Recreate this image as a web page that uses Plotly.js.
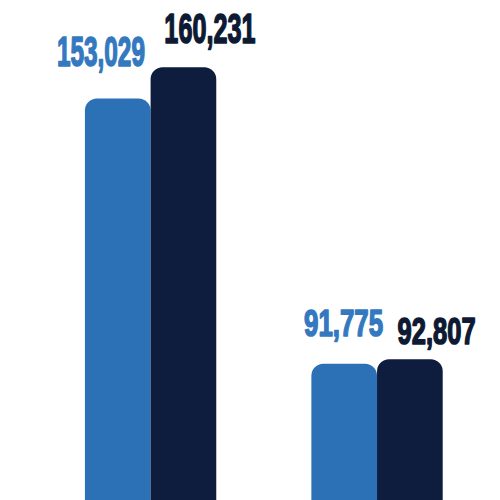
<!DOCTYPE html>
<html>
<head>
<meta charset="utf-8">
<script src="https://cdn.plot.ly/plotly-3.0.1.min.js"></script>
<style>
html,body{margin:0;padding:0;background:#fff;}
#chart{width:500px;height:500px;}
</style>
</head>
<body>
<div id="chart"></div>
<script>
var categories = ["A", "B"];
var seriesLight = [153029, 91775];
var seriesDark = [160231, 92807];
var labelsLight = ["153,029", "91,775"];
var labelsDark = ["160,231", "92,807"];

var lightColor = "#2c70b6";
var darkColor = "#0e1d3e";
var lightText = "#3479bf";
var darkText = "#0e1a33";
var fontFam = "'Liberation Sans', Arial, sans-serif";

var traces = [
  {type: "bar", x: categories, y: seriesLight, marker: {color: lightColor, cornerradius: 12, line: {width: 0}}, hoverinfo: "none"},
  {type: "bar", x: categories, y: seriesDark, marker: {color: darkColor, cornerradius: 12, line: {width: 0}}, hoverinfo: "none"}
];

// style: font size per group, shifts (px) and horizontal condensing per label
var labelSizes = [42, 37];
var lightShift = [[-50, 47], [-34, 40]];
var darkShift = [[59, 39], [59, 27.5]];
var lightSqueeze = [0.58, 0.70];
var darkSqueeze = [0.60, 0.69];

var annotations = [];
var squeezes = [];
var strokeCols = [];
categories.forEach(function (c, i) {
  annotations.push({x: c, y: seriesLight[i], text: "<b>" + labelsLight[i] + "</b>", showarrow: false,
    xanchor: "center", yanchor: "middle", xshift: lightShift[i][0], yshift: lightShift[i][1],
    font: {family: fontFam, size: labelSizes[i], color: lightText}});
  squeezes.push(lightSqueeze[i]); strokeCols.push(lightText);
  annotations.push({x: c, y: seriesDark[i], text: "<b>" + labelsDark[i] + "</b>", showarrow: false,
    xanchor: "center", yanchor: "middle", xshift: darkShift[i][0], yshift: darkShift[i][1],
    font: {family: fontFam, size: labelSizes[i], color: darkText}});
  squeezes.push(darkSqueeze[i]); strokeCols.push(darkText);
});

var layout = {
  width: 500, height: 500,
  margin: {l: 0, r: 0, t: 0, b: 0},
  paper_bgcolor: "#ffffff", plot_bgcolor: "#ffffff",
  showlegend: false,
  barmode: "group",
  bargap: 0.42,
  bargroupgap: 0,
  xaxis: {range: [-0.665, 1.543], visible: false, fixedrange: true},
  yaxis: {range: [60300, 175750], visible: false, fixedrange: true},
  annotations: annotations
};

Plotly.newPlot("chart", traces, layout, {displayModeBar: false, staticPlot: true}).then(function () {
  var texts = document.querySelectorAll("#chart .annotation-text");
  texts.forEach(function (t, k) {
    t.style.transformBox = "fill-box";
    t.style.transformOrigin = "center";
    t.style.transform = "scaleX(" + squeezes[k] + ")";
    t.style.stroke = strokeCols[k];
    t.style.strokeWidth = "1.6px";
    t.style.strokeLinejoin = "round";
  });
});
</script>
</body>
</html>
